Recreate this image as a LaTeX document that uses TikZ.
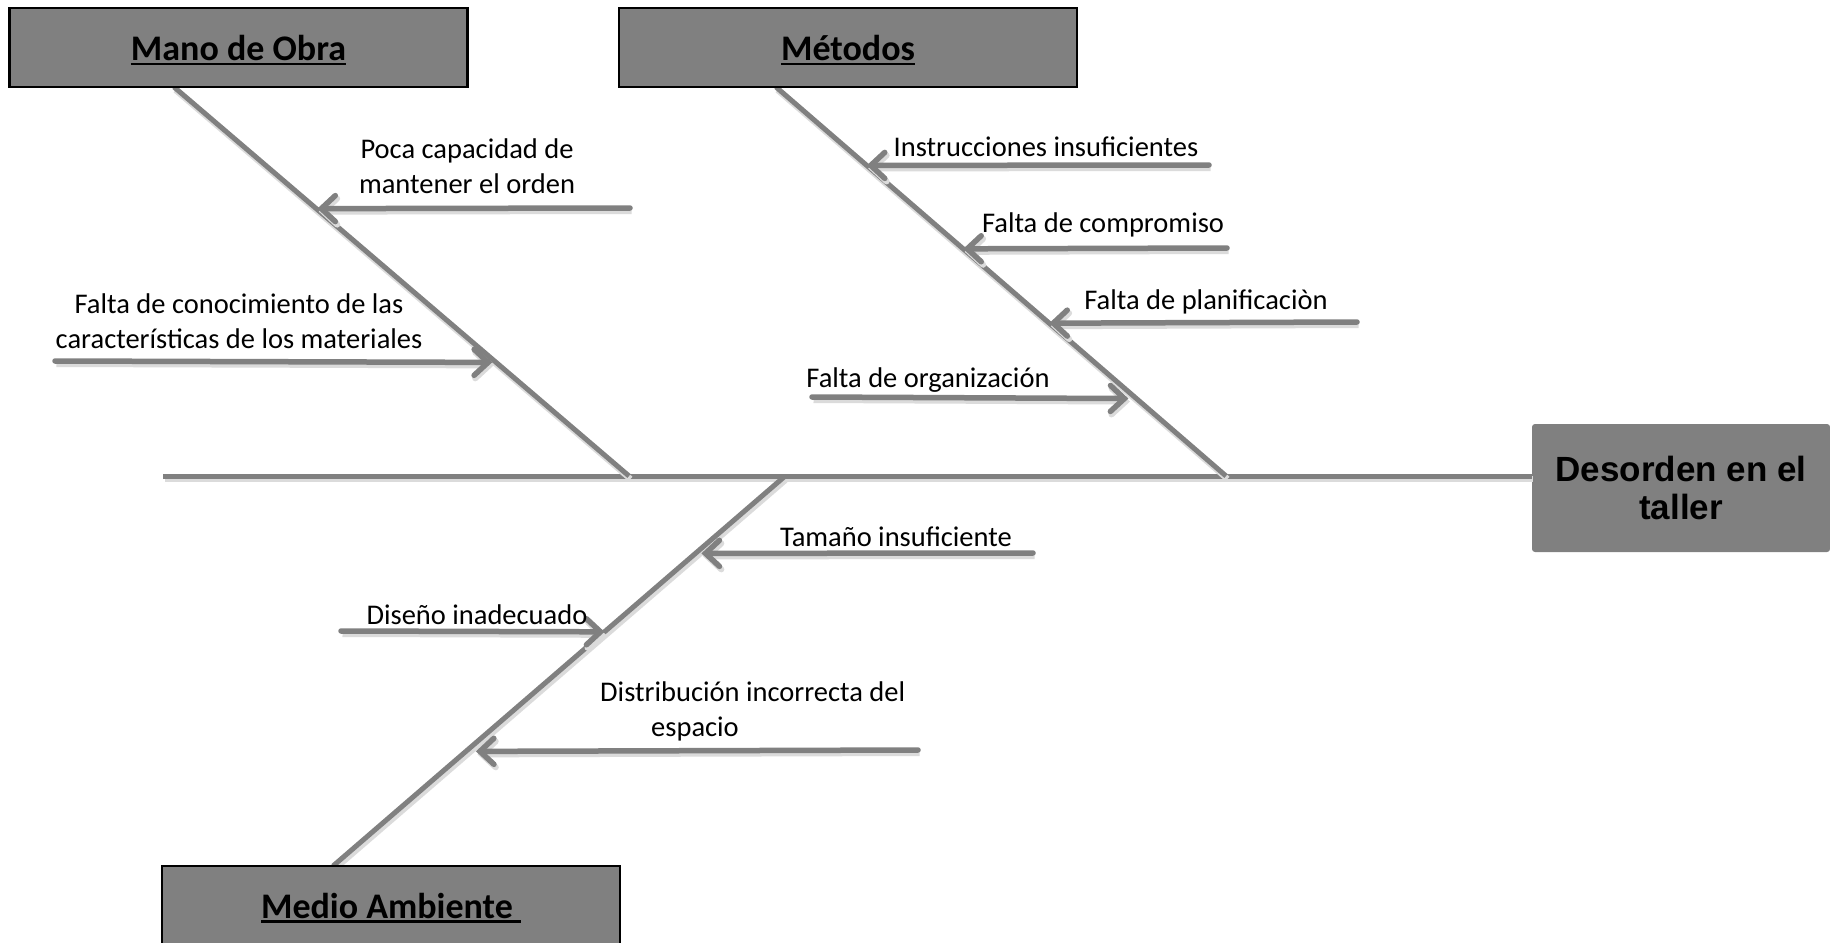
\documentclass[tikz,border=0pt]{standalone}
\usepackage{fontspec}
\setmainfont{Carlito}
\newfontfamily\headfont{Liberation Sans}
\usetikzlibrary{arrows.meta,calc}
\definecolor{bonegray}{RGB}{128,128,128}
\definecolor{boxgray}{RGB}{128,128,128}
% thick underline for the category titles
\newcommand{\titleul}[1]{\setbox0=\hbox{#1}\rlap{\rule[-4.5pt]{\wd0}{2.2pt}}\box0}

\begin{document}
\begin{tikzpicture}[x=1pt,y=-1pt,
  catbox/.style={draw=black, line width=2.5pt, fill=boxgray, minimum width=458pt,
    minimum height=79pt, inner sep=0pt, text height=30pt, text depth=4pt,
    font=\fontsize{36}{43}\selectfont\bfseries},
  effbox/.style={fill=boxgray, rounded corners=3pt, minimum width=298pt, minimum height=128pt,
    inner sep=0pt, align=center, font=\headfont\fontsize{35}{38}\selectfont\bfseries},
  bone/.style={draw=bonegray, line width=5pt,
    preaction={draw=black!14, line width=6pt, transform canvas={shift={(1.5pt,-3pt)}}}},
  cause/.style={bone, line width=5.5pt, line cap=round,
    -{Straight Barb[length=14pt,width=26pt,line cap=round]}},
  lbl/.style={font=\fontsize{28.5}{35}\selectfont, inner sep=0pt, align=center}]

\useasboundingbox (0,0) rectangle (1830,942);
\clip (0,0) rectangle (1830,942);
\fill[white] (0,0) rectangle (1830,942);

% ---- spine and main bones ----
\coordinate (tail) at (163,476);
\coordinate (mTop) at (174,87);
\coordinate (mJoin) at (629,476);
\coordinate (tTop) at (776,87);
\coordinate (tJoin) at (1226,476);
\coordinate (aJoin) at (784,477);
\coordinate (aBot) at (333,866);

\node[effbox] (efecto) at (1681,488) {Desorden en el\\taller};

\draw[bone] (tail) -- (tail -| efecto.west);
\draw[bone] (mTop) -- (mJoin);
\draw[bone] (tTop) -- (tJoin);
\draw[bone] (aJoin) -- (aBot);

% ---- Mano de Obra causes ----
\coordinate (m1s) at (630,208);
\coordinate (m1t) at ($(mTop)!0.3127!(mJoin)$);
\draw[cause, shorten >=1pt] (m1s) -- (m1t);
\coordinate (m2s) at (55,361);
\coordinate (m2t) at ($(mTop)!0.708!(mJoin)$);
\draw[cause, shorten >=4pt] (m2s) -- (m2t);

\node[lbl] (m1) at (467,166) {Poca capacidad de\\mantener el orden};
\node[lbl] (m2) at (239,321) {Falta de conocimiento de las\\características de los materiales};

% ---- Métodos causes ----
\coordinate (t1s) at (1209,165);
\coordinate (t1t) at ($(tTop)!0.2016!(tJoin)$);
\draw[cause] (t1s) -- (t1t);
\coordinate (t2s) at (1227,248);
\coordinate (t2t) at ($(tTop)!0.416!(tJoin)$);
\draw[cause] (t2s) -- (t2t);
\coordinate (t3s) at (1357,322);
\coordinate (t3t) at ($(tTop)!0.6072!(tJoin)$);
\draw[cause] (t3s) -- (t3t);
\coordinate (t4s) at (812,397);
\coordinate (t4t) at ($(tTop)!0.801!(tJoin)$);
\draw[cause, shorten >=8pt] (t4s) -- (t4t);

\node[lbl] (t1) at (1046,147) {Instrucciones insuficientes};
\node[lbl] (t2) at (1103,225) {Falta de compromiso};
\node[lbl] (t3) at (1206,302) {Falta de planificaciòn};
\node[lbl] (t4) at (928,380) {Falta de organización};

% ---- Medio Ambiente causes ----
\coordinate (a1s) at (1033,553);
\coordinate (a1t) at ($(aJoin)!0.1964!(aBot)$);
\draw[cause, shorten >=6pt] (a1s) -- (a1t);
\coordinate (a2s) at (341,631);
\coordinate (a2t) at ($(aJoin)!0.398!(aBot)$);
\draw[cause] (a2s) -- (a2t);
\coordinate (a3s) at (918,750);
\coordinate (a3t) at ($(aJoin)!0.7054!(aBot)$);
\draw[cause, shorten >=10pt] (a3s) -- (a3t);

\node[lbl] (a1) at (896,537) {Tamaño insuficiente};
\node[lbl] (a2) at (477,615) {Diseño inadecuado};
\node[lbl, align=left, anchor=west] (a3) at (600,711) {Distribución incorrecta del\\\hspace*{51pt}espacio};

% ---- category boxes ----
\node[catbox] (mano) at (238.5,47.5) {\titleul{Mano de Obra}};
\node[catbox] (metodos) at (848,47.5) {\titleul{Métodos}};
\node[catbox, minimum height=78pt] (medio) at (391,905) {\titleul{Medio Ambiente\ }};

\end{tikzpicture}
\end{document}
